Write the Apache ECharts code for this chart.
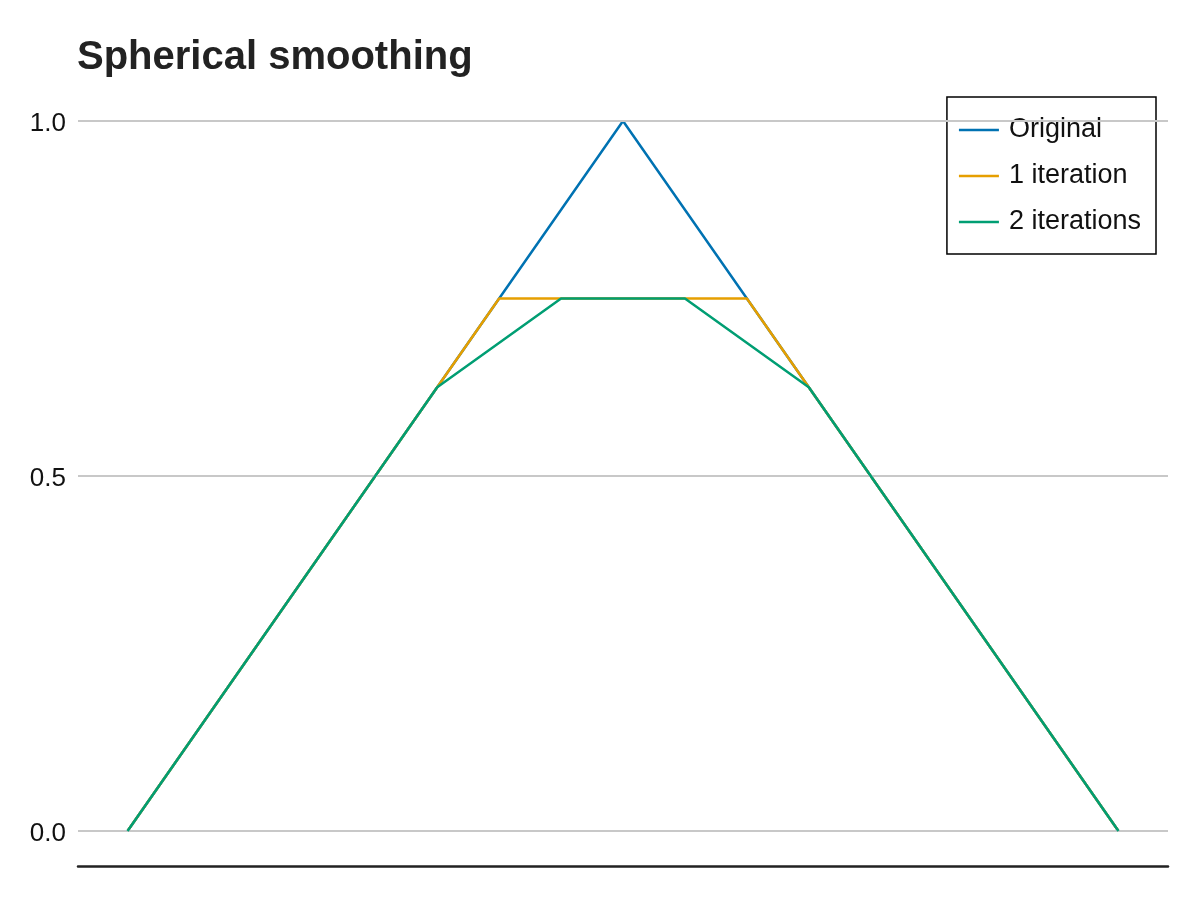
<!DOCTYPE html>
<html>
<head>
<meta charset="utf-8">
<script src="https://cdn.jsdelivr.net/npm/echarts@6/dist/echarts.min.js"></script>
<style>html,body{margin:0;padding:0;background:#fff;}#c{width:1200px;height:900px;}</style>
</head>
<body>
<div id="c"></div>
<script>
const seriesNames = ['Original', '1 iteration', '2 iterations'];
const original = [[0, 0], [0.5, 1], [1, 0]];
const iter1 = [[0, 0], [0.375, 0.75], [0.625, 0.75], [1, 0]];
const iter2 = [[0, 0], [0.3125, 0.625], [0.4375, 0.75], [0.5625, 0.75], [0.6875, 0.625], [1, 0]];
const yTicks = [0, 0.5, 1.0];
const colors = ['#0072B2', '#E69F00', '#009E73'];
const FONT = 'Liberation Sans';

const chart = echarts.init(document.getElementById('c'));
const lineSeries = [original, iter1, iter2].map((d, i) => ({
  name: seriesNames[i],
  type: 'line',
  data: d,
  symbol: 'none',
  z: 3 + i,
  lineStyle: { color: colors[i], width: 2.5 },
  itemStyle: { color: colors[i] }
}));
chart.setOption({
  animation: false,
  backgroundColor: '#fff',
  textStyle: { fontFamily: FONT },
  title: {
    text: 'Spherical smoothing',
    left: 77, top: 38, padding: 0,
    textStyle: { fontFamily: FONT, fontSize: 40, fontWeight: 'bold', color: '#222' }
  },
  legend: {
    orient: 'vertical',
    right: 44, top: 97,
    data: seriesNames,
    icon: 'rect',
    itemWidth: 40, itemHeight: 2.5,
    itemGap: 16,
    padding: [18, 15, 17, 12],
    borderColor: '#000', borderWidth: 1.5,
    backgroundColor: '#fff',
    textStyle: { fontFamily: FONT, fontSize: 27, color: '#111', lineHeight: 26, padding: [4, 0, 0, 5] }
  },
  grid: { left: 78, right: 32, top: 85.5, bottom: 33.5, containLabel: false },
  xAxis: {
    type: 'value', min: -0.05, max: 1.05,
    axisLine: { show: true, onZero: false, lineStyle: { color: '#222', width: 2.5 } },
    axisTick: { show: false }, axisLabel: { show: false }, splitLine: { show: false }
  },
  yAxis: {
    type: 'value', min: -0.05, max: 1.05,
    axisLine: { show: false }, axisTick: { show: false }, splitLine: { show: false },
    axisLabel: {
      customValues: yTicks,
      formatter: v => v.toFixed(1),
      fontFamily: FONT, fontSize: 26, color: '#111', margin: 12,
      verticalAlign: 'top', lineHeight: 6
    }
  },
  series: [
    {
      type: 'line', data: [], silent: true, z: 1,
      markLine: {
        silent: true, symbol: 'none', label: { show: false },
        lineStyle: { color: '#c8c8c8', width: 2, type: 'solid' },
        data: yTicks.map(v => ({ yAxis: v }))
      }
    }
  ].concat(lineSeries)
});
</script>
</body>
</html>
